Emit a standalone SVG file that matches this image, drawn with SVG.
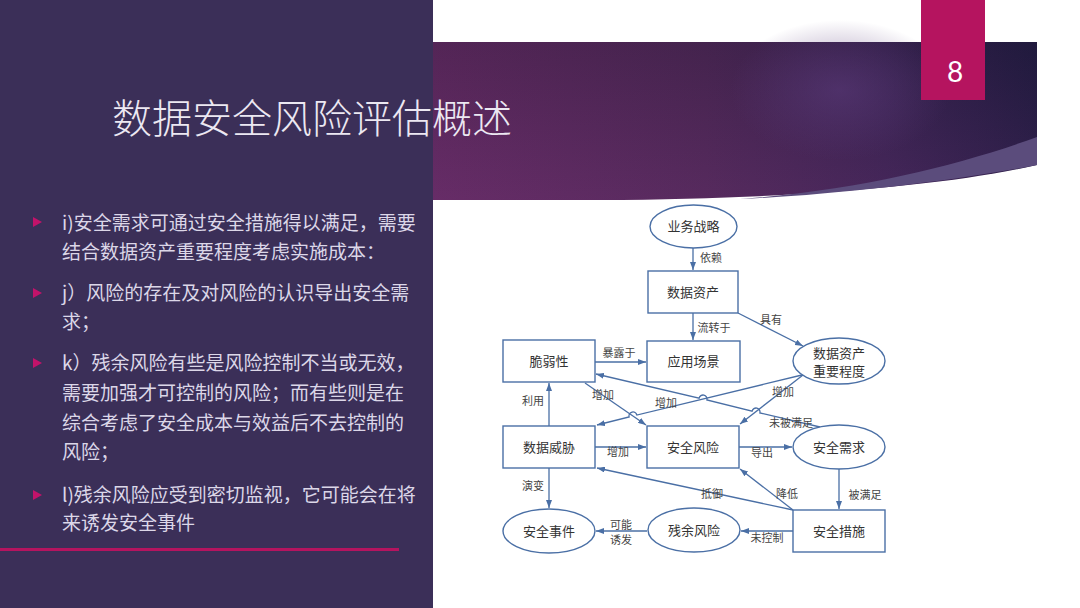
<svg xmlns="http://www.w3.org/2000/svg" width="1080" height="608" viewBox="0 0 1080 608">
<defs>
<linearGradient id="band" x1="0" y1="0" x2="1" y2="0">
<stop offset="0" stop-color="#5f2a62"/>
<stop offset="0.45" stop-color="#4d2858"/>
<stop offset="0.75" stop-color="#3a2454"/>
<stop offset="1" stop-color="#241d45"/>
</linearGradient>
<linearGradient id="bandV" x1="0" y1="0" x2="0" y2="1">
<stop offset="0" stop-color="#000" stop-opacity="0.12"/>
<stop offset="1" stop-color="#a03c8c" stop-opacity="0.12"/>
</linearGradient>
<radialGradient id="glow" cx="0.5" cy="0.5" r="0.5">
<stop offset="0" stop-color="#5a3a7a" stop-opacity="0.6"/>
<stop offset="1" stop-color="#5a3a7a" stop-opacity="0"/>
</radialGradient>
<marker id="ah" markerWidth="8" markerHeight="6" refX="8" refY="3" orient="auto" markerUnits="userSpaceOnUse">
<path d="M0,0 L8,3 L0,6 z" fill="#4a6fa5"/>
</marker>
<style>
.body{font-family:"Noto Sans CJK SC","Noto Sans",sans-serif;font-size:19px;fill:#dcd7e8;}
.bul{fill:#c2136a;}
.nd rect,.nd ellipse{fill:#ffffff;stroke:#4a6fa5;stroke-width:1.4;}
.nt{font-family:"Noto Sans CJK SC",sans-serif;font-size:13px;fill:#333;text-anchor:middle;}
.lb{font-family:"Noto Sans CJK SC",sans-serif;font-size:11px;fill:#444;text-anchor:middle;}
.ed path{fill:none;stroke:#4a6fa5;stroke-width:1.3;marker-end:url(#ah);}
</style>
</defs>
<rect x="0" y="0" width="1080" height="608" fill="#ffffff"/>
<rect x="0" y="0" width="433" height="608" fill="#3b2f58"/>
<!-- header band -->
<path d="M433,42 H1037 V165 C950,185 800,199 600,200 L433,200 Z" fill="url(#band)"/>
<path d="M433,42 H1037 V165 C950,185 800,199 600,200 L433,200 Z" fill="url(#bandV)"/>
<ellipse cx="840" cy="90" rx="110" ry="70" fill="url(#glow)"/>
<path d="M1037,137 C960,165 860,190 740,199 C820,196 950,182 1037,165 Z" fill="#5b4c7c"/>
<rect x="921" y="0" width="64" height="100" fill="#b5145f"/>
<text x="955" y="82" font-family="Lato, 'Open Sans', sans-serif" font-size="28" fill="#ffffff" text-anchor="middle">8</text>
<text x="112" y="133" font-family="'Noto Sans CJK SC', sans-serif" font-weight="300" font-size="40" fill="#ece8f2">数据安全风险评估概述</text>
<!-- bullets -->
<g id="bullets">
<path class="bul" d="M33,217 L42,222 L33,227 z"/>
<path class="bul" d="M33,288 L42,293 L33,298 z"/>
<path class="bul" d="M33,358 L42,363 L33,368 z"/>
<path class="bul" d="M33,490 L42,495 L33,500 z"/>
<text class="body" x="62" y="230">i)安全需求可通过安全措施得以满足，需要</text>
<text class="body" x="62" y="259">结合数据资产重要程度考虑实施成本：</text>
<text class="body" x="62" y="300">j）风险的存在及对风险的认识导出安全需</text>
<text class="body" x="62" y="329">求；</text>
<text class="body" x="62" y="370">k）残余风险有些是风险控制不当或无效，</text>
<text class="body" x="62" y="400">需要加强才可控制的风险；而有些则是在</text>
<text class="body" x="62" y="430">综合考虑了安全成本与效益后不去控制的</text>
<text class="body" x="62" y="459">风险；</text>
<text class="body" x="62" y="502">l)残余风险应受到密切监视，它可能会在将</text>
<text class="body" x="62" y="530">来诱发安全事件</text>
</g>
<rect x="0" y="548" width="399" height="3" fill="#b5145f"/>
<!-- connectors -->
<g id="connectors" class="ed">
<path d="M693,248 L693,270"/>
<path d="M693,313 L693,340"/>
<path d="M738,313 L803,346"/>
<path d="M595,362 L646,362"/>
<path d="M549,426 L549,383"/>
<path d="M595,447 L646,447"/>
<path d="M549,468 L549,508"/>
<path d="M647,531 L596,531"/>
<path d="M793,531 L741,531"/>
<path d="M739,447 L792,447"/>
<path d="M839,469 L839,509"/>
<path d="M793,510 L740,469"/>
<path d="M793,510 L597,468"/>
<path d="M585,383 L646,425"/>
<path d="M802,375 L636.9,415.05 A4,4 0 0 0 629.1,416.95 L597,425"/>
<path d="M803,375 L740,424"/>
<path d="M820,427 L759.9,412.9 A4,4 0 0 0 752.1,411.1 L706.9,399.9 A4,4 0 0 0 699.1,398.1 L596,374"/>
</g>
<g id="edge-labels">
<text class="lb" x="711" y="262">依赖</text>
<text class="lb" x="714" y="332">流转于</text>
<text class="lb" x="771" y="324">具有</text>
<text class="lb" x="619" y="357">暴露于</text>
<text class="lb" x="533" y="405">利用</text>
<text class="lb" x="603" y="399">增加</text>
<text class="lb" x="618" y="456">增加</text>
<text class="lb" x="533" y="490">演变</text>
<text class="lb" x="621" y="529">可能</text>
<text class="lb" x="621" y="544">诱发</text>
<text class="lb" x="666" y="407">增加</text>
<text class="lb" x="783" y="396">增加</text>
<text class="lb" x="791" y="427">未被满足</text>
<text class="lb" x="762" y="457">导出</text>
<text class="lb" x="712" y="498">抵御</text>
<text class="lb" x="787" y="498">降低</text>
<text class="lb" x="865" y="499">被满足</text>
<text class="lb" x="767" y="542">未控制</text>
</g>
<!-- nodes -->
<g id="n-strategy" class="nd"><ellipse cx="693.5" cy="226.5" rx="43.5" ry="21.5"/><text class="nt" x="693.5" y="231">业务战略</text></g>
<g id="n-asset" class="nd"><rect x="648" y="271" width="90" height="42"/><text class="nt" x="693" y="297">数据资产</text></g>
<g id="n-scene" class="nd"><rect x="647" y="341" width="93" height="41"/><text class="nt" x="693.5" y="366">应用场景</text></g>
<g id="n-vuln" class="nd"><rect x="503" y="340" width="92" height="42"/><text class="nt" x="549" y="366">脆弱性</text></g>
<g id="n-importance" class="nd"><ellipse cx="839" cy="361" rx="46" ry="23"/><text class="nt" x="839" y="358">数据资产</text><text class="nt" x="839" y="376">重要程度</text></g>
<g id="n-threat" class="nd"><rect x="503" y="426" width="92" height="42"/><text class="nt" x="549" y="452">数据威胁</text></g>
<g id="n-risk" class="nd"><rect x="647" y="426" width="92" height="42"/><text class="nt" x="693" y="452">安全风险</text></g>
<g id="n-req" class="nd"><ellipse cx="839" cy="447" rx="46" ry="22"/><text class="nt" x="839" y="452">安全需求</text></g>
<g id="n-event" class="nd"><ellipse cx="549" cy="531" rx="46" ry="22"/><text class="nt" x="549" y="536">安全事件</text></g>
<g id="n-residual" class="nd"><ellipse cx="694" cy="530" rx="46" ry="22"/><text class="nt" x="694" y="535">残余风险</text></g>
<g id="n-measure" class="nd"><rect x="793" y="510" width="92" height="42"/><text class="nt" x="839" y="536">安全措施</text></g>
</svg>
